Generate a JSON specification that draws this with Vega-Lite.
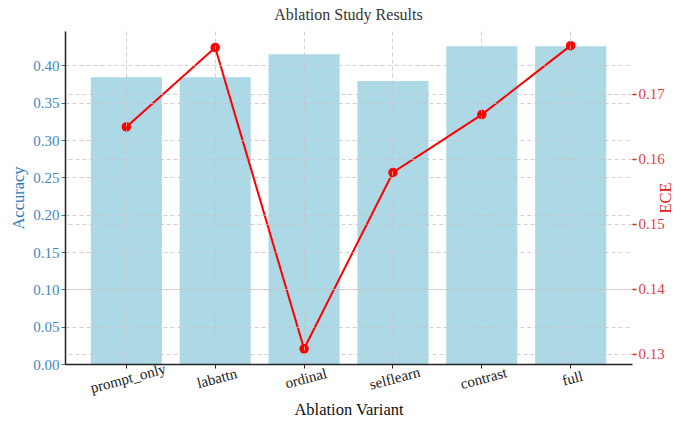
{
  "$schema": "https://vega.github.io/schema/vega-lite/v6.json",
  "width": 567,
  "height": 333,
  "autosize": {"type": "none"},
  "padding": {"left": 65, "top": 31, "right": 49, "bottom": 59},
  "background": "white",
  "config": {
    "font": "Liberation Serif",
    "view": {"stroke": null},
    "axis": {"labelFont": "Liberation Serif", "titleFont": "Liberation Serif", "titleFontWeight": "normal", "labelFontSize": 15, "titleFontSize": 16.5}
  },
  "title": {"text": "Ablation Study Results", "font": "Liberation Serif", "fontSize": 16, "fontWeight": "normal", "color": "#333333", "offset": 8},
  "data": {"values": [
    {"variant": "prompt_only", "accuracy": 0.384, "ece": 0.1649},
    {"variant": "labattn", "accuracy": 0.384, "ece": 0.1771},
    {"variant": "ordinal", "accuracy": 0.415, "ece": 0.1308},
    {"variant": "selflearn", "accuracy": 0.379, "ece": 0.1579},
    {"variant": "contrast", "accuracy": 0.4255, "ece": 0.1668},
    {"variant": "full", "accuracy": 0.4255, "ece": 0.1774}
  ]},
  "encoding": {
    "x": {
      "field": "variant", "type": "nominal", "sort": null,
      "scale": {"paddingInner": 0.2, "paddingOuter": 0.29},
      "axis": {
        "title": "Ablation Variant", "titleColor": "#111111", "titlePadding": 6,
        "titleFont": "Liberation Serif", "labelFont": "Liberation Serif", "labelFontSize": 15, "titleFontSize": 16.5,
        "labelAngle": -15, "labelAlign": "center", "labelBaseline": "top", "labelColor": "#222222", "labelPadding": 3,
        "domainColor": "#222222", "domainWidth": 1.5, "tickColor": "#222222", "tickSize": 4,
        "grid": true, "gridColor": "#c4c4c4", "gridDash": [4, 3], "gridWidth": 0.8, "zindex": 1
      }
    }
  },
  "layer": [
    {
      "mark": {"type": "bar", "color": "#ADD8E6"},
      "encoding": {
        "y": {
          "field": "accuracy", "type": "quantitative",
          "scale": {"domain": [0, 0.446], "nice": false, "zero": true},
          "axis": {
            "title": "Accuracy", "titleColor": "#2f7ab8", "titlePadding": 6,
            "titleFont": "Liberation Serif", "labelFont": "Liberation Serif", "labelFontSize": 15, "titleFontSize": 16.5,
            "values": [0, 0.05, 0.1, 0.15, 0.2, 0.25, 0.3, 0.35, 0.4], "format": ".2f",
            "labelColor": "#3f88c5", "labelPadding": 2, "domainColor": "#222222", "domainWidth": 1.5,
            "tickColor": "#2f7ab8", "tickSize": 4,
            "grid": true, "gridColor": "#c4c4c4", "gridDash": [4, 3], "gridWidth": 0.8, "zindex": 1
          }
        }
      }
    },
    {
      "mark": {"type": "line", "color": "#ff0000", "strokeWidth": 2, "point": {"filled": true, "size": 90, "color": "#ff0000", "opacity": 1}},
      "encoding": {
        "y": {
          "field": "ece", "type": "quantitative",
          "scale": {"domain": [0.12846, 0.17965], "nice": false, "zero": false},
          "axis": {
            "orient": "right", "title": "ECE", "titleColor": "#e02020", "titlePadding": 9, "titleAngle": 270,
            "titleFont": "Liberation Serif", "labelFont": "Liberation Serif", "labelFontSize": 15, "titleFontSize": 16.5,
            "values": [0.13, 0.14, 0.15, 0.16, 0.17], "format": ".2f",
            "labelColor": "#e04040", "labelPadding": 2, "domain": false,
            "tickColor": "#e02020", "tickSize": 4, "tickWidth": 1.5,
            "grid": true, "gridColor": "#c4c4c4", "gridDash": [4, 3], "gridWidth": 0.8, "zindex": 1
          }
        }
      }
    }
  ],
  "resolve": {"scale": {"y": "independent"}}
}
